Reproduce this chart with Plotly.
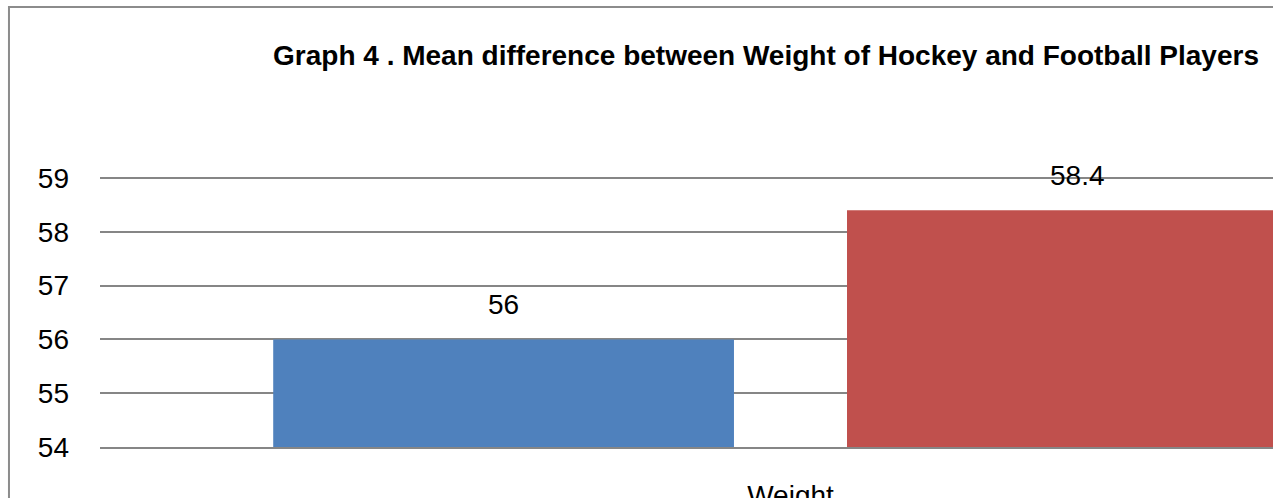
import plotly.graph_objects as go

categories = ["Weight"]
series_names = ["Hockey Players", "Football Players"]
hockey_values = [56]
football_values = [58.4]
colors = ["#4F81BD", "#C0504D"]
y_ticks = [54, 55, 56, 57, 58, 59]
title_text = "Graph 4 . Mean difference between Weight of Hockey and Football Players"

fig = go.Figure()
for name, vals, col in zip(series_names, [hockey_values, football_values], colors):
    fig.add_trace(go.Bar(x=categories, y=vals, name=name, marker_color=col,
                         marker_line_width=0, showlegend=False))

# data labels above bars
offsets = [-0.2078, 0.2078]
for off, vals in zip(offsets, [hockey_values, football_values]):
    for i, v in enumerate(vals):
        fig.add_annotation(x=i + off, y=v, text=f"{v:g}", showarrow=False,
                           xref="x", yref="y", yanchor="bottom", yshift=17,
                           font=dict(family="Liberation Sans, Arial", size=28, color="#000000"))

# outer chart border (left/top visible)
fig.add_shape(type="rect", xref="paper", yref="paper",
              x0=-0.0776, x1=2.0, y0=-1.0, y1=1.6117,
              line=dict(color="#8C8C8C", width=2), fillcolor="rgba(0,0,0,0)", layer="below")

fig.update_layout(
    width=1273, height=498,
    margin=dict(l=100, r=0, t=174, b=51, autoexpand=False),
    paper_bgcolor="white", plot_bgcolor="white",
    barmode="group", bargap=0.169, bargroupgap=0.197,
    title=dict(text=f"<b>{title_text}</b>", x=0.5678, xref="paper", xanchor="center",
               y=1 - 55 / 498, yref="container", yanchor="middle",
               font=dict(family="Liberation Sans Narrow, Arial Narrow, Liberation Sans", size=28, color="#000000")),
    xaxis=dict(type="category", range=[-0.5, 0.3494], showgrid=False,
               showline=True, linecolor="#868686", linewidth=2,
               ticks="", ticklabelstandoff=22,
               tickfont=dict(family="Liberation Sans, Arial", size=28, color="#000000")),
    yaxis=dict(range=[54, 59.075], tickvals=y_ticks, showgrid=True, gridcolor="#868686", gridwidth=2,
               zeroline=False, showline=False, ticks="", ticklabelstandoff=30,
               tickfont=dict(family="Liberation Sans, Arial", size=28, color="#000000")),
)

fig.write_html("out.html")
